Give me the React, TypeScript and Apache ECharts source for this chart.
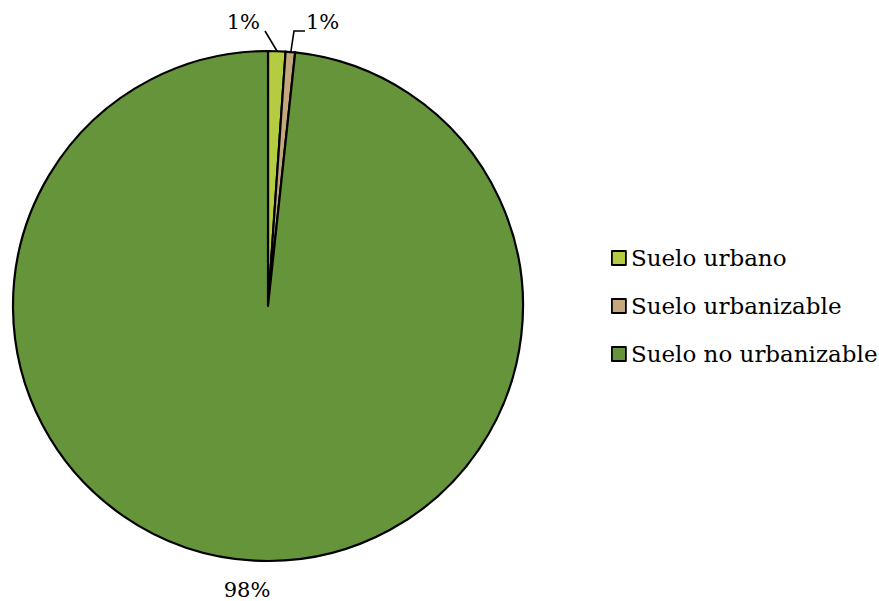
import React, { useEffect, useRef } from "react";
import * as echarts from "echarts";

const categories = ["Suelo urbano", "Suelo urbanizable", "Suelo no urbanizable"];
const values = [1.1, 0.6, 98.3];
const colors = ["#B5CC42", "#C4A77C", "#66943A"];

const FONT = "DejaVu Serif";

export default function App() {
  const ref = useRef<HTMLDivElement>(null);
  useEffect(() => {
    if (!ref.current) return;
    const chart = echarts.init(ref.current, undefined, { renderer: "svg" });
    const cx = 268;
    const cy = 306;
    const r = 255;
    chart.setOption({
      animation: false,
      backgroundColor: "#ffffff",
      legend: {
        orient: "vertical",
        left: 606,
        top: 241,
        itemWidth: 14,
        itemHeight: 14,
        itemGap: 24,
        icon: "rect",
        itemStyle: { borderColor: "#000", borderWidth: 1.8 },
        textStyle: { fontFamily: FONT, fontSize: 23, color: "#000", lineHeight: 24 },
        data: categories,
      },
      series: [
        {
          type: "pie",
          center: [cx, cy],
          radius: r,
          startAngle: 90,
          clockwise: true,
          avoidLabelOverlap: false,
          itemStyle: { borderColor: "#000", borderWidth: 2.2 },
          label: {
            show: true,
            formatter: "{d}%",
            fontFamily: FONT,
            fontSize: 21,
            color: "#000",
          },
          percentPrecision: 0,
          labelLine: { show: true, lineStyle: { color: "#000", width: 1.6 } },
          labelLayout: (params: any) => {
            const i = params.dataIndex;
            if (i === 0) {
              return {
                x: 260,
                y: 22,
                align: "right",
                verticalAlign: "middle",
                labelLinePoints: [
                  [277, 51],
                  [265, 31],
                  [265, 31],
                ],
              };
            }
            if (i === 1) {
              return {
                x: 306,
                y: 22,
                align: "left",
                verticalAlign: "middle",
                labelLinePoints: [
                  [291, 51],
                  [294, 31],
                  [305, 31],
                ],
              };
            }
            return {
              x: 247,
              y: 590,
              align: "center",
              verticalAlign: "middle",
            };
          },
          data: categories.map((name, i) => ({
            name,
            value: values[i],
            itemStyle: { color: colors[i] },
            labelLine: i === 2 ? { show: false } : undefined,
          })),
        },
      ],
    });
    return () => chart.dispose();
  }, []);
  return (
    <div
      ref={ref}
      style={{ position: "fixed", left: 0, top: 0, width: 879, height: 601 }}
    />
  );
}
